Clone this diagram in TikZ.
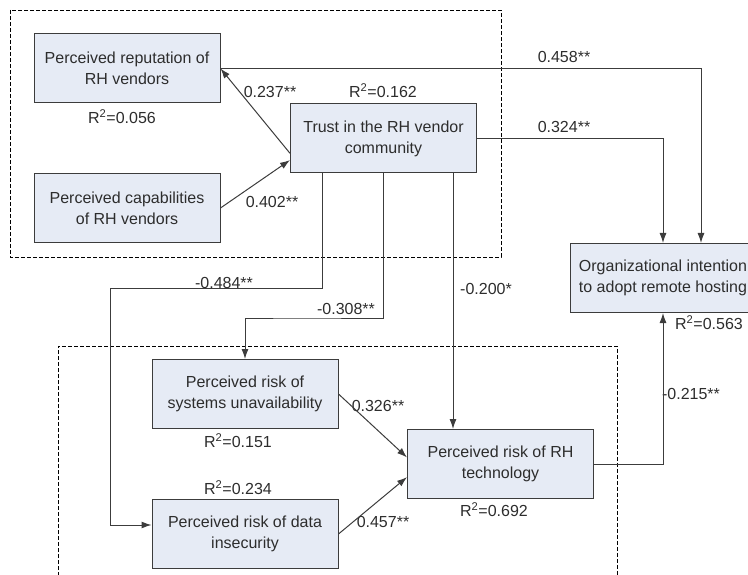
\documentclass[tikz,border=0pt]{standalone}
\usepackage{fontspec}
\setmainfont{Liberation Sans}
\usetikzlibrary{arrows.meta}
\definecolor{boxfill}{RGB}{230,235,245}
\definecolor{ink}{RGB}{45,45,45}
\definecolor{wire}{RGB}{60,60,60}

\begin{document}
\begin{tikzpicture}[x=1pt, y=-1pt,
        construct/.style={draw=wire, line width=1pt, fill=boxfill, text=ink, align=center,
            minimum width=186pt, minimum height=69pt, inner sep=0pt, font=\fontsize{16}{21}\selectfont},
        coef/.style={text=ink, inner sep=0pt, font=\fontsize{16}{19}\selectfont},
        link/.style={draw=wire, line width=1pt, -{Latex[length=10pt,width=7pt]}},
        group/.style={draw=black, line width=0.8pt, dash pattern=on 4pt off 2pt}]
            \useasboundingbox (0, 0) rectangle (748, 575);
            \clip (0, 0) rectangle (748, 575);

            \draw[group] (10, 10) rectangle (501, 257);
            \draw[group] (58, 600) -- (58, 346) -- (617, 346) -- (617, 600);

            \node[construct] at (127, 68.5)      (rep)  {Perceived reputation of\\RH vendors};
            \node[construct] at (127, 208)       (cap)  {Perceived capabilities\\of RH vendors};
            \node[construct] at (383.5, 138.5)   (trust) {Trust in the RH vendor\\community};
            \node[construct] at (663, 278)       (org)  {Organizational intention\\to adopt remote hosting};
            \node[construct] at (245, 394)       (sysrisk)  {Perceived risk of\\systems unavailability};
            \node[construct] at (245, 534)       (datarisk) {Perceived risk of data\\insecurity};
            \node[construct] at (500.5, 464)     (techrisk) {Perceived risk of RH\\technology};

            \node[coef] at (122, 117)     (r_rep)   {R\textsuperscript{2}=0.056};
            \node[coef] at (383, 91)      (r_trust) {R\textsuperscript{2}=0.162};
            \node[coef] at (709, 323)     (r_org)   {R\textsuperscript{2}=0.563};
            \node[coef] at (238, 441)     (r_sys)   {R\textsuperscript{2}=0.151};
            \node[coef] at (238, 488)     (r_data)  {R\textsuperscript{2}=0.234};
            \node[coef] at (494, 510)     (r_tech)  {R\textsuperscript{2}=0.692};

            \node[coef] at (270, 92)      (c_rep)   {0.237**};
            \node[coef] at (272, 202)     (c_cap)   {0.402**};
            \node[coef] at (564, 57)      (c_reporg)   {0.458**};
            \node[coef] at (564, 127)     (c_trustorg) {0.324**};
            \node[coef] at (224, 283)     (c_data)  {-0.484**};
            \node[coef] at (346, 309)     (c_sys)   {-0.308**};
            \node[coef] at (486, 289)     (c_tech)  {-0.200*};
            \node[coef] at (378, 406)     (c_systech)  {0.326**};
            \node[coef] at (383, 522)     (c_datatech) {0.457**};
            \node[coef] at (691, 394)     (c_techorg)  {-0.215**};

            \coordinate (k484) at (110, 289);
            \coordinate (k308) at (300, 318);

            \draw[link] (trust.189) -- (rep.east);
            \draw[link] (cap.east) -- (trust.193);
            \draw[link] (rep.east) -| ([xshift=38pt]org.north);
            \draw[link] (trust.east) -| (org.north);

            \draw[link] ([xshift=-61pt]trust.south) |- (k484) |- ([yshift=9pt]datarisk.west);
            \draw[link] (trust.south) |- (k308) -| (sysrisk.north);
            \draw[link] ([xshift=69.5pt]trust.south) -- ([xshift=69.5pt]trust.south |- techrisk.north);

            \draw[link] (sysrisk.east) -- (techrisk.176);
            \draw[link] (datarisk.east) -- (techrisk.188);
            \draw[link] (techrisk.east) -| (org.south);
        \end{tikzpicture}
\end{document}
